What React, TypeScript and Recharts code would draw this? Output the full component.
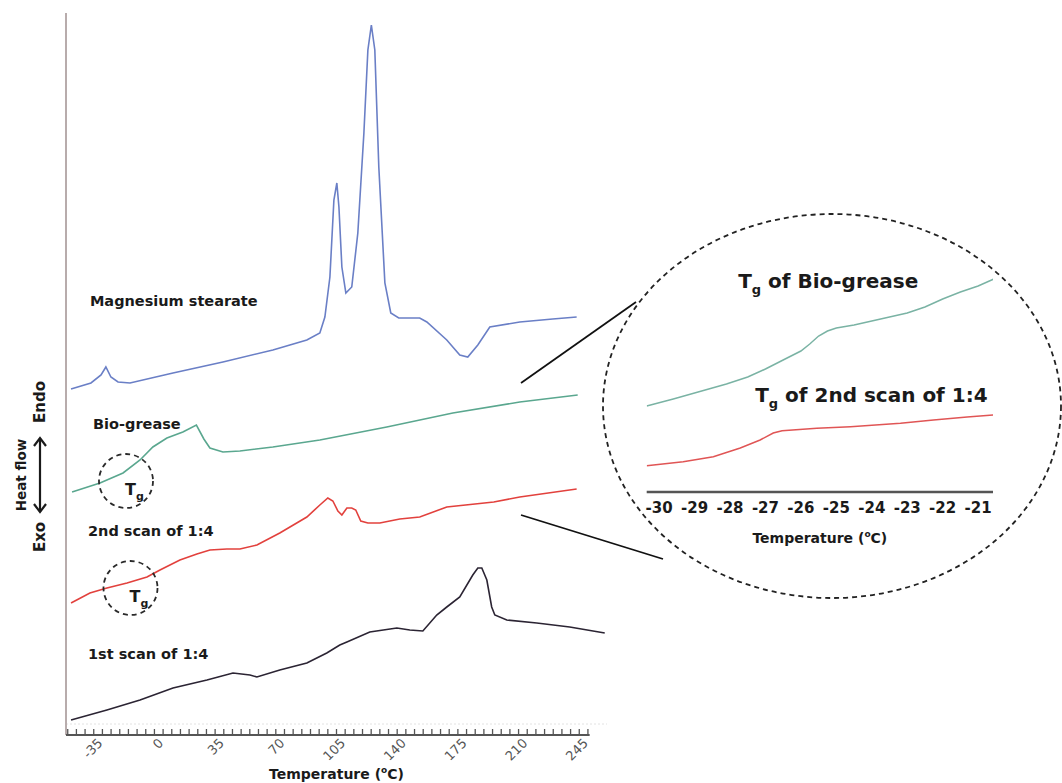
import React from 'react';
import { LineChart, Line, XAxis, YAxis, ReferenceLine, ReferenceDot } from 'recharts';

const FONT = '"DejaVu Sans", Verdana, sans-serif';

// DSC traces: temperature (°C) vs stacked heat flow (a.u., endo up)
const stearateTemp = [-53.1, -41.6, -35.8, -33.0, -30.1, -26.0, -19.1, 5.7, 34.5, 63.3, 82.9, 90.4, 93.3, 96.2, 98.5, 100.2, 101.4, 103.1, 105.4, 108.8, 112.3, 115.8, 118.1, 120.1, 122.1, 124.4, 127.9, 131.3, 135.9, 148.0, 152.1, 163.6, 171.1, 175.7, 181.5, 188.4, 205.7, 224.7, 238.5];
const stearateFlow = [346, 352, 360, 368, 358, 353, 352, 362, 373, 385, 395, 402, 418, 458, 535, 552, 528, 468, 442, 448, 502, 602, 685, 710, 685, 568, 452, 422, 417, 417, 413, 395, 380, 378, 390, 408, 413, 416, 418];

const bioTemp = [-52.5, -36.4, -23.1, -13.3, -5.9, 2.2, 11.4, 19.2, 23.5, 27.0, 34.5, 44.3, 63.3, 90.4, 129.0, 167.1, 205.7, 239.1];
const bioFlow = [243, 252, 262, 275, 288, 297, 303, 310, 296, 287, 283, 284, 288, 295, 308, 322, 333, 340];

const scan2Temp = [-53.1, -42.2, -32.4, -20.8, -9.3, -1.8, 9.7, 19.5, 27.0, 36.8, 44.3, 54.1, 67.3, 82.9, 90.4, 95.0, 97.9, 100.8, 103.1, 106.0, 108.8, 111.1, 114.0, 118.1, 125.0, 136.5, 148.0, 163.6, 190.7, 205.7, 238.5];
const scan2Flow = [132, 142, 147, 152, 158, 165, 175, 181, 185, 186, 186, 190, 202, 218, 230, 237, 234, 224, 220, 227, 227, 225, 214, 212, 212, 216, 218, 228, 233, 238, 246];

const scan1Temp = [-53.1, -32.4, -13.3, 5.7, 25.3, 40.3, 50.1, 54.1, 67.3, 82.9, 94.4, 101.9, 106.0, 119.2, 134.8, 142.3, 149.8, 157.8, 163.6, 171.1, 178.6, 181.5, 183.8, 186.7, 189.5, 191.3, 198.2, 215.5, 234.5, 254.7];
const scan1Flow = [15, 25, 35, 47, 55, 62, 60, 58, 65, 72, 82, 90, 93, 103, 107, 105, 104, 120, 128, 138, 160, 167, 167, 155, 128, 120, 115, 112, 108, 102];

// zoomed glass-transition region
const bioTgTemp = [-30.35, -29.6, -28.9, -28.1, -27.5, -27.0, -26.5, -26.0, -25.75, -25.5, -25.25, -25.0, -24.5, -24.0, -23.5, -23.0, -22.5, -22.0, -21.5, -21.0, -20.56];
const bioTgFlow = [86, 93, 100, 108, 115, 123, 132, 141, 148, 156, 161, 164, 167, 171, 175, 179, 185, 193, 200, 206, 213];

const scan2TgTemp = [-30.35, -29.32, -28.47, -27.71, -27.15, -26.78, -26.53, -25.55, -24.6, -23.19, -22.26, -21.31, -20.56];
const scan2TgFlow = [26.3, 30.3, 35.3, 44, 52, 59, 61.3, 63.7, 65.3, 68.7, 72, 75, 77];

const tempLabels = [-35, 0, 35, 70, 105, 140, 175, 210, 245];
const minorTicks = Array.from({ length: 61 }, (_, i) => -55 + i * 5);
const insetTicks = [-30, -29, -28, -27, -26, -25, -24, -23, -22, -21];

const toPoints = (ts: number[], vs: number[]) => ts.map((t, i) => ({ t, v: vs[i] }));

function TempTick({ x, y, payload }: any) {
  const v = payload.value;
  return (
    <g>
      <line x1={x} x2={x} y1={y} y2={y - 6} stroke="#555" strokeWidth={1.3} />
      {tempLabels.includes(v) && (
        <text
          x={x + 1}
          y={y + 9}
          transform={`rotate(-45 ${x + 1} ${y + 9})`}
          textAnchor="end"
          fontSize={13}
          fill="#555"
          fontFamily={FONT}
        >
          {v}
        </text>
      )}
    </g>
  );
}

function TgMark({ cx, cy }: any) {
  return (
    <g>
      <circle cx={cx} cy={cy} r={27} fill="none" stroke="#2a2a2a" strokeWidth={1.8} strokeDasharray="5 4" />
      <text x={cx - 1} y={cy + 14} fontFamily={FONT} fontWeight={700} fontSize={16} fill="#1a1a1a">
        T<tspan fontSize={11} dy={5}>g</tspan>
      </text>
    </g>
  );
}

const curveLabel = (label: string) => (p: any) => (
  <text x={p.cx} y={p.cy} fontFamily={FONT} fontWeight={700} fontSize={14.5} fill="#1a1a1a">
    {label}
  </text>
);

const tgLabel = (rest: string) => (p: any) => (
  <text x={p.cx} y={p.cy} fontFamily={FONT} fontWeight={700} fontSize={20} fill="#1a1a1a">
    T<tspan fontSize={13} dy={6}>g</tspan>
    <tspan dy={-6}>{rest}</tspan>
  </text>
);

const tempTitle = (dy: number) => (props: any) => {
  const vb = props.viewBox;
  return (
    <text x={vb.x + vb.width / 2} y={vb.y + dy} textAnchor="middle" fontFamily={FONT} fontWeight={700} fontSize={14} fill="#1a1a1a">
      Temperature (<tspan fontSize={9} dy={-6}>o</tspan>
      <tspan dy={6}>C)</tspan>
    </text>
  );
};

export default function App() {
  return (
    <div style={{ position: 'absolute', left: 0, top: 0, width: 1062, height: 783, background: '#fff', overflow: 'hidden' }}>
      <LineChart width={1062} height={783} margin={{ top: 13, right: 455, bottom: 0, left: 66 }}>
        <XAxis
          type="number"
          dataKey="t"
          domain={[-56, 256]}
          ticks={minorTicks}
          interval={0}
          height={48}
          axisLine={false}
          tickLine={false}
          tickSize={0}
          tickMargin={0}
          tick={(p: any) => <TempTick {...p} />}
          label={{ content: tempTitle(44) }}
          allowDataOverflow
        />
        <YAxis type="number" dataKey="v" domain={[0, 722]} hide allowDataOverflow />
        <ReferenceLine y={11} stroke="#e2e2e2" strokeDasharray="2 2" />
        <ReferenceLine x={-56} stroke="#b8acac" strokeWidth={2} />
        <ReferenceLine segment={[{ x: -56, y: 0 }, { x: 246, y: 0 }]} stroke="#555" strokeWidth={2} />
        <Line data={toPoints(stearateTemp, stearateFlow)} dataKey="v" stroke="#6a7fc6" strokeWidth={1.6} dot={false} isAnimationActive={false} />
        <Line data={toPoints(bioTemp, bioFlow)} dataKey="v" stroke="#5aa78f" strokeWidth={1.6} dot={false} isAnimationActive={false} />
        <Line data={toPoints(scan2Temp, scan2Flow)} dataKey="v" stroke="#e2413d" strokeWidth={1.6} dot={false} isAnimationActive={false} />
        <Line data={toPoints(scan1Temp, scan1Flow)} dataKey="v" stroke="#2b2433" strokeWidth={1.6} dot={false} isAnimationActive={false} />
        <ReferenceDot x={-21.4} y={254} r={27} shape={(p: any) => <TgMark {...p} />} />
        <ReferenceDot x={-18.8} y={147} r={27} shape={(p: any) => <TgMark {...p} />} />
        <ReferenceDot x={-42.2} y={429} r={0} shape={curveLabel('Magnesium stearate')} />
        <ReferenceDot x={-40.4} y={306} r={0} shape={curveLabel('Bio-grease')} />
        <ReferenceDot x={-43.3} y={199} r={0} shape={curveLabel('2nd scan of 1:4')} />
        <ReferenceDot x={-43.3} y={76} r={0} shape={curveLabel('1st scan of 1:4')} />
      </LineChart>

      <svg width={1062} height={783} style={{ position: 'absolute', left: 0, top: 0, pointerEvents: 'none' }}>
        {/* y axis title: Heat flow, Exo <-> Endo */}
        <text transform="translate(26 475) rotate(-90)" textAnchor="middle" fontFamily={FONT} fontWeight={700} fontSize={13.5} fill="#1a1a1a">
          Heat flow
        </text>
        <text transform="translate(45 402) rotate(-90)" textAnchor="middle" fontFamily={FONT} fontWeight={700} fontSize={15} fill="#1a1a1a">
          Endo
        </text>
        <text transform="translate(45 537) rotate(-90)" textAnchor="middle" fontFamily={FONT} fontWeight={700} fontSize={15} fill="#1a1a1a">
          Exo
        </text>
        <g stroke="#1a1a1a" strokeWidth={2.2} fill="none">
          <line x1={40} y1={438} x2={40} y2={512} />
          <polyline points="34,446 40,438 46,446" />
          <polyline points="34,504 40,512 46,504" />
        </g>
        {/* magnifier callout */}
        <line x1={521} y1={383} x2={636} y2={302} stroke="#111" strokeWidth={1.8} />
        <line x1={521} y1={515} x2={663} y2={559} stroke="#111" strokeWidth={1.8} />
        <ellipse cx={832} cy={406} rx={229} ry={192} fill="none" stroke="#222" strokeWidth={1.8} strokeDasharray="5 4" />
      </svg>

      <div style={{ position: 'absolute', left: 600, top: 260 }}>
        <LineChart width={420} height={295} margin={{ top: 17, right: 27, bottom: 0, left: 46.7 }}>
          <XAxis
            type="number"
            dataKey="t"
            domain={[-30.35, -20.58]}
            ticks={insetTicks}
            interval={0}
            height={63}
            axisLine={{ stroke: '#555', strokeWidth: 2.5 }}
            tickLine={false}
            tickSize={0}
            tickMargin={10}
            tick={{ fill: '#1a1a1a', fontSize: 15, fontWeight: 700, fontFamily: FONT }}
            label={{ content: tempTitle(51) }}
            allowDataOverflow
          />
          <YAxis type="number" dataKey="v" domain={[0, 215]} hide allowDataOverflow />
          <Line data={toPoints(bioTgTemp, bioTgFlow)} dataKey="v" stroke="#7ab3a4" strokeWidth={1.5} dot={false} isAnimationActive={false} />
          <Line data={toPoints(scan2TgTemp, scan2TgFlow)} dataKey="v" stroke="#e05555" strokeWidth={1.5} dot={false} isAnimationActive={false} />
          <ReferenceDot x={-27.77} y={204} r={0} shape={tgLabel(' of Bio-grease')} />
          <ReferenceDot x={-27.29} y={90} r={0} shape={tgLabel(' of 2nd scan of 1:4')} />
        </LineChart>
      </div>
    </div>
  );
}
